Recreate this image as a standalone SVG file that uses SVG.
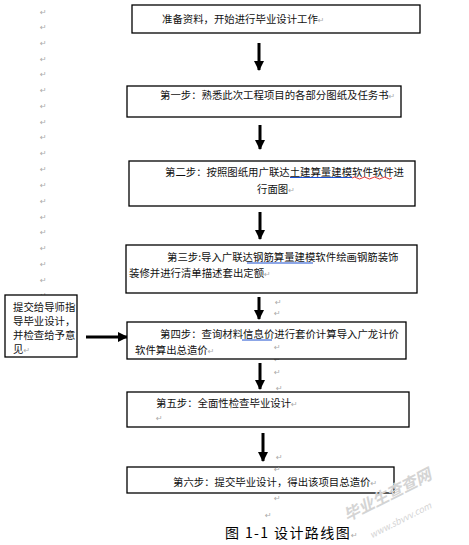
<svg xmlns="http://www.w3.org/2000/svg" width="469" height="545" viewBox="0 0 469 545">
<style>
.box{fill:#fff;stroke:#000;stroke-width:1.3}
.t{font-family:"Noto Sans CJK SC","Liberation Sans",sans-serif;font-size:10.4px;fill:#111}
.r{font-family:"DejaVu Sans",sans-serif;font-size:8px;fill:#aaa}
.a{stroke:#000;stroke-width:3;fill:none;marker-end:url(#ah)}
.u{stroke:#1a4fd0;stroke-width:1;fill:none}
.w{font-family:"Noto Sans CJK SC",sans-serif;fill:#d4d4d4}
</style>
<defs>
<marker id="ah" markerUnits="userSpaceOnUse" markerWidth="10" markerHeight="10" refX="9" refY="5" orient="auto">
<path d="M0,0 L10,5 L0,10 z" fill="#000"/>
</marker>
</defs>
<rect width="469" height="545" fill="#fff"/>
<g id="marks">
<text class="r" x="40" y="15">↵</text>
<text class="r" x="40" y="30">↵</text>
<text class="r" x="40" y="46">↵</text>
<text class="r" x="40" y="62">↵</text>
<text class="r" x="40" y="77">↵</text>
<text class="r" x="40" y="93">↵</text>
<text class="r" x="40" y="109">↵</text>
<text class="r" x="40" y="125">↵</text>
<text class="r" x="40" y="140">↵</text>
<text class="r" x="40" y="156">↵</text>
<text class="r" x="40" y="172">↵</text>
<text class="r" x="40" y="188">↵</text>
<text class="r" x="40" y="204">↵</text>
<text class="r" x="40" y="220">↵</text>
<text class="r" x="40" y="235">↵</text>
<text class="r" x="40" y="251">↵</text>
<text class="r" x="40" y="267">↵</text>
<text class="r" x="40" y="283">↵</text>
<text class="r" x="40" y="298">↵</text>
<text class="r" x="275" y="305">↵</text>
<text class="r" x="274" y="316">↵</text>
<text class="r" x="274" y="362">↵</text>
<text class="r" x="274" y="375">↵</text>
<text class="r" x="276" y="391">↵</text>
<text class="r" x="276" y="460">↵</text>
<text class="r" x="274" y="501">↵</text>
<text class="r" x="265" y="518">↵</text>
</g>
<g id="connectors">
<line class="a" x1="259" y1="43" x2="259" y2="70"/>
<line class="a" x1="260" y1="125" x2="260" y2="149"/>
<line class="a" x1="260" y1="212" x2="260" y2="239"/>
<line class="a" x1="259" y1="297" x2="259" y2="319"/>
<line class="a" x1="260" y1="363" x2="260" y2="389"/>
<line class="a" x1="263" y1="433" x2="263" y2="461"/>
<line class="a" x1="86" y1="337" x2="127" y2="337"/>
</g>
<g id="n0">
<rect class="box" x="132" y="5" width="288" height="28"/>
<text class="t" x="162" y="23">准备资料，开始进行毕业设计工作<tspan class="r">↵</tspan></text>
</g>
<g id="n1">
<rect class="box" x="127" y="86" width="274" height="31"/>
<text class="t" x="160" y="99">第一步：熟悉此次工程项目的各部分图纸及任务书<tspan class="r">↵</tspan></text>
</g>
<g id="n2">
<rect class="box" x="129" y="161" width="286" height="45"/>
<text class="t" x="165" y="176">第二步：按照图纸用广联达土建算量建模软件软件进</text>
<text class="t" x="257" y="193">行面图<tspan class="r">↵</tspan></text>
<line class="u" x1="290" y1="177.5" x2="352" y2="177.5"/>
<path d="M352,178 q2.5,-2 5,0 t5,0 t5,0 t5,0 t5,0 t5,0 t5,0 t5,0" stroke="#e02020" stroke-width="0.9" fill="none"/>
</g>
<g id="n3">
<rect class="box" x="126" y="245" width="291" height="48"/>
<text class="t" x="167" y="261">第三步<tspan>:</tspan>导入广联达钢筋算量建模软件绘画钢筋装饰</text>
<text class="t" x="129" y="277">装修并进行清单描述套出定额<tspan class="r">↵</tspan></text>
<line class="u" x1="247" y1="263" x2="313" y2="263"/>
</g>
<g id="n4">
<rect class="box" x="127" y="322" width="279" height="37"/>
<text class="t" x="160" y="338">第四步：查询材料信息价进行套价计算导入广龙计价</text>
<text class="t" x="135" y="354">软件算出总造价<tspan class="r">↵</tspan></text>
<text class="r" x="274" y="350">↵</text>
<line class="u" x1="242" y1="340" x2="272" y2="340"/>
</g>
<g id="n5">
<rect class="box" x="127" y="392" width="282" height="35"/>
<text class="t" x="156" y="407">第五步：全面性检查毕业设计<tspan class="r">↵</tspan></text>
<text class="r" x="156" y="421">↵</text>
</g>
<g id="n6">
<rect class="box" x="127" y="467" width="267" height="26"/>
<text class="r" x="274" y="472" font-size="6.5">↵</text>
<text class="t" x="173" y="486">第六步：提交毕业设计，得出该项目总造价<tspan class="r">↵</tspan></text>
</g>
<g id="n7">
<rect class="box" x="5" y="295" width="72" height="62"/>
<text class="t" x="13" y="311">提交给导师指</text>
<text class="t" x="13" y="325">导毕业设计，</text>
<text class="t" x="13" y="339">并检查给予意</text>
<text class="t" x="13" y="353">见<tspan class="r">↵</tspan></text>
</g>
<g id="caption">
<text x="225" y="538" style="font-family:'Noto Sans CJK SC',sans-serif;font-size:14px;fill:#000;letter-spacing:1.4px" xml:space="preserve">图 1-1 设计路线图<tspan class="r">↵</tspan></text>
</g>
<g id="watermark">
<text class="w" transform="translate(390,500) rotate(-27)" text-anchor="middle" font-size="16" font-weight="bold" font-style="italic">毕业生查查网</text>
<text class="w" transform="translate(402,523) rotate(-27)" text-anchor="middle" font-size="9" font-style="italic">www.sbvvv.com</text>
</g>
</svg>
